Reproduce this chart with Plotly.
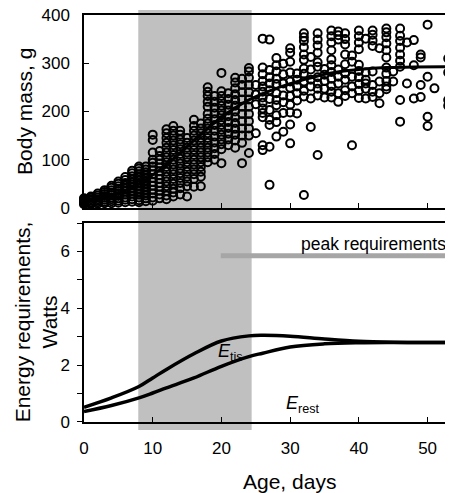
import plotly.graph_objs as go

# body mass samples, grouped by age (days)
ages = list(range(0, 51)) + [51, 53]
mass_by_age = [
    [8, 10, 12, 14, 16, 18, 20],
    [8, 10, 12, 15, 18, 21, 24],
    [9, 12, 15, 18, 22, 26, 30],
    [10, 13, 17, 21, 25, 29, 33, 37],
    [10, 14, 18, 22, 27, 32, 37, 42, 46],
    [11, 15, 20, 25, 30, 35, 40, 45, 50, 55],
    [12, 17, 22, 28, 34, 40, 46, 52, 58, 64],
    [13, 18, 24, 30, 36, 42, 48, 54, 60, 66, 72, 77],
    [12, 16, 22, 28, 34, 40, 46, 52, 58, 64, 70, 76, 82, 86],
    [14, 20, 26, 32, 38, 44, 50, 56, 62, 68, 74, 80, 86],
    [15, 22, 30, 38, 46, 54, 62, 70, 78, 86, 94, 100, 115, 141, 152],
    [20, 28, 36, 44, 52, 60, 68, 76, 84, 92, 100, 108, 118],
    [18, 26, 35, 45, 55, 65, 75, 85, 95, 105, 115, 125, 135, 145, 155, 163],
    [24, 32, 40, 50, 60, 70, 80, 90, 100, 110, 120, 130, 140, 150, 160, 170],
    [28, 41, 52, 62, 72, 82, 92, 102, 112, 122, 132, 142, 152, 160],
    [24, 45, 55, 65, 75, 85, 95, 105, 115, 125, 135, 145],
    [44, 60, 70, 80, 90, 100, 110, 120, 130, 140, 150, 160, 170, 183],
    [45, 65, 75, 85, 95, 105, 115, 125, 135, 145, 155, 165, 175],
    [95, 105, 115, 125, 135, 145, 155, 165, 175, 185, 195, 210, 220, 232, 241, 250],
    [100, 112, 124, 136, 148, 160, 172, 184, 196, 208, 220, 232],
    [93, 122, 132, 142, 152, 162, 172, 182, 192, 202, 212, 222, 232, 242, 280],
    [130, 142, 154, 166, 178, 190, 202, 214, 226, 238],
    [125, 140, 152, 164, 176, 188, 200, 212, 224, 236, 248, 260, 270],
    [93, 135, 150, 165, 180, 195, 210, 225, 240, 255, 268],
    [114, 150, 165, 180, 195, 210, 225, 240, 255, 270, 283, 290],
    [155, 215, 235, 255],
    [120, 130, 188, 197, 206, 218, 229, 241, 252, 263, 277, 291, 351],
    [48, 127, 172, 183, 203, 226, 244, 258, 271, 286, 349],
    [148, 178, 192, 213, 224, 238, 257, 268, 283, 296, 311],
    [158, 197, 219, 233, 258, 277, 299],
    [134, 173, 198, 214, 232, 249, 262, 281, 303, 322, 331],
    [196, 223, 238, 252, 266, 279],
    [27, 231, 243, 262, 278, 289, 307, 318, 333, 346, 354, 362],
    [168, 227, 252, 266, 287, 313],
    [110, 233, 247, 258, 271, 293, 302, 322, 337, 349, 362],
    [229, 247, 263, 276, 288],
    [229, 241, 253, 268, 282, 296, 308, 327, 343, 356, 368],
    [220, 238, 258, 272, 287, 349, 358, 366],
    [232, 244, 266, 279, 298, 318, 339, 350, 362],
    [130, 238, 252, 272, 303, 316],
    [228, 243, 257, 271, 284, 297, 329, 343, 356, 368],
    [227, 247, 258, 266, 281, 351],
    [230, 241, 255, 283, 336, 347, 359, 368],
    [217, 238, 262, 331],
    [246, 252, 263, 278, 291, 312, 327, 341, 354, 364, 372],
    [262, 283],
    [179, 224, 293, 305, 318, 332, 346, 357, 372],
    [258, 343],
    [227, 296, 348],
    [230, 255, 312, 318],
    [170, 189, 272, 380],
    [248],
    [212, 224, 281, 310],
]

# growth curve fit
fit_age = [0, 4, 8, 12, 16, 20, 24, 28, 32, 36, 40, 44, 48, 53]
fit_mass = [12, 25, 50, 90, 140, 188, 224, 248, 266, 280, 287, 291, 292, 293]

# energy requirements (W)
e_age = [0, 4, 8, 10, 12, 16, 20, 24, 26, 30, 35, 40, 45, 53.3]
e_upper = [0.52, 0.85, 1.25, 1.55, 1.85, 2.4, 2.85, 3.03, 3.05, 3.02, 2.92, 2.84, 2.81, 2.8]
e_lower = [0.37, 0.58, 0.85, 1.02, 1.2, 1.55, 1.96, 2.3, 2.42, 2.64, 2.75, 2.79, 2.8, 2.8]

peak_age = [19.9, 53.3]
peak_val = [5.85, 5.85]

band = (7.9, 24.4)

x_pts, y_pts = [], []
for a, ms in zip(ages, mass_by_age):
    for m in ms:
        x_pts.append(a)
        y_pts.append(m)

font = 'Liberation Sans, Arial, sans-serif'

fig = go.Figure()
fig.add_trace(go.Scatter(x=x_pts, y=y_pts, mode='markers', xaxis='x', yaxis='y',
                         marker=dict(symbol='circle-open', size=8, color='black',
                                     line=dict(width=2, color='black')),
                         cliponaxis=False))
fig.add_trace(go.Scatter(x=fit_age, y=fit_mass, mode='lines', xaxis='x', yaxis='y',
                         line=dict(color='black', width=3, shape='spline')))
fig.add_trace(go.Scatter(x=e_age, y=e_upper, mode='lines', xaxis='x2', yaxis='y2',
                         line=dict(color='black', width=3.5, shape='spline')))
fig.add_trace(go.Scatter(x=e_age, y=e_lower, mode='lines', xaxis='x2', yaxis='y2',
                         line=dict(color='black', width=3.5, shape='spline')))
fig.add_trace(go.Scatter(x=peak_age, y=peak_val, mode='lines', xaxis='x2', yaxis='y2',
                         line=dict(color='#a6a6a6', width=5)))

top_dom = [0.5258, 1]
bot_dom = [0, 0.4889]

fig.add_shape(type='rect', xref='x', yref='paper', x0=band[0], x1=band[1],
              y0=-0.0197, y1=1.0123, fillcolor='#c0c0c0', line=dict(width=0),
              layer='below')

axis_common = dict(showline=True, linecolor='black', linewidth=1.5, showgrid=False,
                   zeroline=False, tickcolor='black', tickwidth=1, automargin=False,
                   ticklabeloverflow='allow',
                   tickfont=dict(family=font, size=17, color='black'))

# page has an 8px body margin, so the margins are shifted by that amount
fig.update_layout(
    width=453, height=493,
    margin=dict(l=76, r=8, t=7, b=79, autoexpand=False),
    paper_bgcolor='white', plot_bgcolor='rgba(0,0,0,0)',
    showlegend=False,
    xaxis=dict(axis_common, domain=[0, 1], range=[0, 53.7], anchor='y', mirror=True,
               ticks='inside', ticklen=5, tickvals=[10, 20, 30, 40, 50],
               showticklabels=False),
    yaxis=dict(axis_common, domain=top_dom, range=[0, 400], anchor='x',
               ticks='inside', ticklen=5, tickvals=[0, 100, 200, 300, 400],
               ticklabelstandoff=9),
    xaxis2=dict(axis_common, domain=[0, 1], range=[0, 53.7], anchor='y2', mirror=True,
                ticks='inside', ticklen=5, tickvals=[0, 10, 20, 30, 40, 50],
                ticklabelstandoff=10),
    yaxis2=dict(axis_common, domain=bot_dom, range=[0, 7], anchor='x2',
                ticks='outside', ticklen=5, tickvals=[0, 1, 2, 3, 4, 5, 6, 7],
                ticktext=['0', '', '2', '', '4', '', '6', ''],
                ticklabelstandoff=4),
)

ann = [
    dict(text='Body mass, g', xref='paper', yref='paper', x=-0.163, y=0.764,
         xanchor='center', yanchor='middle',
         textangle=-90, showarrow=False, font=dict(family=font, size=21, color='black')),
    dict(text='Energy requirements,<br>Watts', xref='paper', yref='paper', x=-0.13,
         y=0.245, xanchor='center', yanchor='middle', textangle=-90, showarrow=False,
         font=dict(family=font, size=21, color='black')),
    dict(text='Age, days', xref='paper', yref='paper', x=0.556, y=-0.145,
         xanchor='center', yanchor='middle',
         showarrow=False, font=dict(family=font, size=21, color='black')),
    dict(text='peak requirements', xref='x2', yref='y2', x=52.9, y=6.25,
         xanchor='right', showarrow=False, font=dict(family=font, size=17.5, color='black')),
    dict(text='<i>E</i><sub>tis</sub>', xref='x2', yref='y2', x=21.3, y=2.45,
         showarrow=False, font=dict(family=font, size=18, color='black')),
    dict(text='<i>E</i><sub>rest</sub>', xref='x2', yref='y2', x=31.8, y=0.62,
         showarrow=False, font=dict(family=font, size=18, color='black')),
]
fig.update_layout(annotations=ann)

fig.write_html('out.html')
